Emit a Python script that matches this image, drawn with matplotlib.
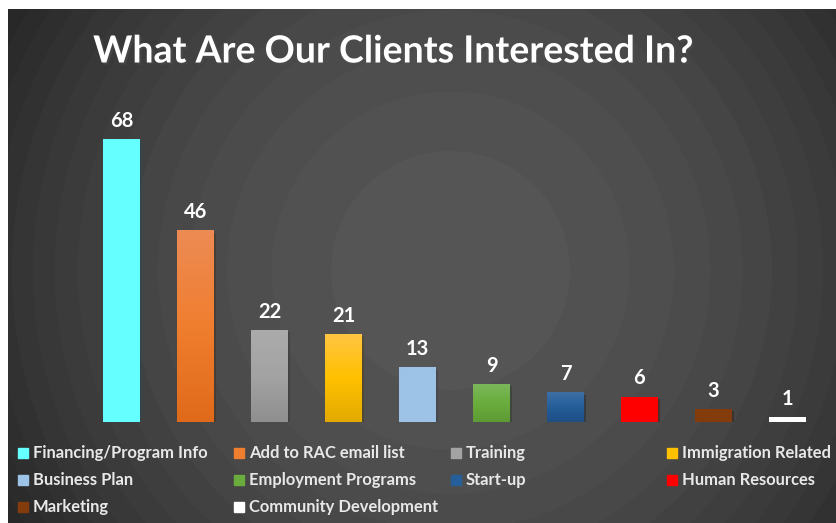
import numpy as np
import matplotlib.pyplot as plt
import matplotlib.patheffects as pe
from matplotlib.colors import to_rgb
from matplotlib.patches import Rectangle

categories = ['Financing/Program Info', 'Add to RAC email list', 'Training',
              'Immigration Related', 'Business Plan', 'Employment Programs',
              'Start-up', 'Human Resources', 'Marketing', 'Community Development']
counts = [68, 46, 22, 21, 13, 9, 7, 6, 3, 1]

# top / middle / bottom shades of each bar (office style gradient fill)
top_colors = ['#66FFFF', '#ED8B55', '#ABABAB', '#FFC542', '#9DC3E6',
              '#7BB75A', '#3D6FA5', '#FF0000', '#843C0C', '#FFFFFF']
mid_colors = ['#66FFFF', '#F07E2F', '#A3A3A3', '#FFC000', '#9DC3E6',
              '#6AAD3D', '#255E99', '#FF0000', '#843C0C', '#FFFFFF']
bot_colors = ['#66FFFF', '#DF6A1A', '#8F8F8F', '#E2AA00', '#9DC3E6',
              '#5E9A34', '#1F4E85', '#FF0000', '#843C0C', '#FFFFFF']

W, H = 837, 523
FONT = 'Lato'

fig = plt.figure(figsize=(W / 100, H / 100), dpi=100, facecolor='white')

# dark panel with stepped radial gradient
bg = fig.add_axes([8 / W, 0, (W - 8) / W, (H - 9) / H])
yy, xx = np.mgrid[9:H, 8:W]
r2 = (xx - 450.0) ** 2 + (yy - 270.0) ** 2
level = np.floor(r2 / 17800 + 0.2)
grey = np.clip(85 - 3.2 * level, 37, 85) / 255
bg.imshow(np.dstack([grey, grey, grey]), aspect='auto', interpolation='nearest')
bg.set_axis_off()

ax = fig.add_axes([84.5 / W, (H - 421.7) / H, 740 / W, 75 * 4.157 / H])
ax.set_facecolor('none')
x = np.arange(len(categories))
bw = 0.5
bars = ax.bar(x, counts, width=bw, color=mid_colors, zorder=2,
              path_effects=[pe.SimplePatchShadow(offset=(1.5, -1.5), alpha=0.35), pe.Normal()])

t = np.linspace(0, 1, 100)[:, None]
for xi, h, ct, cm, cb in zip(x, counts, top_colors, mid_colors, bot_colors):
    ct, cm, cb = np.array(to_rgb(ct)), np.array(to_rgb(cm)), np.array(to_rgb(cb))
    upper = (1 - t / 0.5) * ct + (t / 0.5) * cm
    lower = (1 - (t - 0.5) / 0.5) * cm + ((t - 0.5) / 0.5) * cb
    grad = np.where(t < 0.5, upper, lower)[:, None, :]
    ax.imshow(grad, extent=[xi - bw / 2, xi + bw / 2, 0, h], aspect='auto', zorder=3)
    ax.annotate(str(h), (xi, h), xytext=(0, 6), textcoords='offset points',
                ha='center', va='bottom', color='white', fontsize=14.5,
                fontweight='bold', family=FONT, zorder=4)

ax.set_xlim(-0.5, len(categories) - 0.5)
ax.set_ylim(0, 75)
ax.set_axis_off()

# title, scaled to the width it has in the original
title = fig.text(392.5 / W, 1 - 52 / H, 'What Are Our Clients Interested In?',
                 ha='center', va='center', color='white', fontsize=26,
                 fontweight='bold', family=FONT,
                 path_effects=[pe.withSimplePatchShadow(offset=(1.5, -1.5), alpha=0.6)])
renderer = fig.canvas.get_renderer()
tw = title.get_window_extent(renderer).width
title.set_fontsize(26 * 600 / tw)

# legend laid out in 4 equal columns
for i, (label, c) in enumerate(zip(categories, mid_colors)):
    row, col = divmod(i, 4)
    lx = 18 + 216.5 * col
    ly = 453 + 27 * row
    fig.add_artist(Rectangle((lx / W, 1 - (ly + 5) / H), 10 / W, 10 / H,
                             transform=fig.transFigure, color=c))
    fig.text((lx + 15) / W, 1 - ly / H, label, ha='left', va='center',
             color='#E8E8E8', fontsize=11.9, fontweight='bold', family=FONT)

fig.savefig('out.png', dpi=100, facecolor='white')
